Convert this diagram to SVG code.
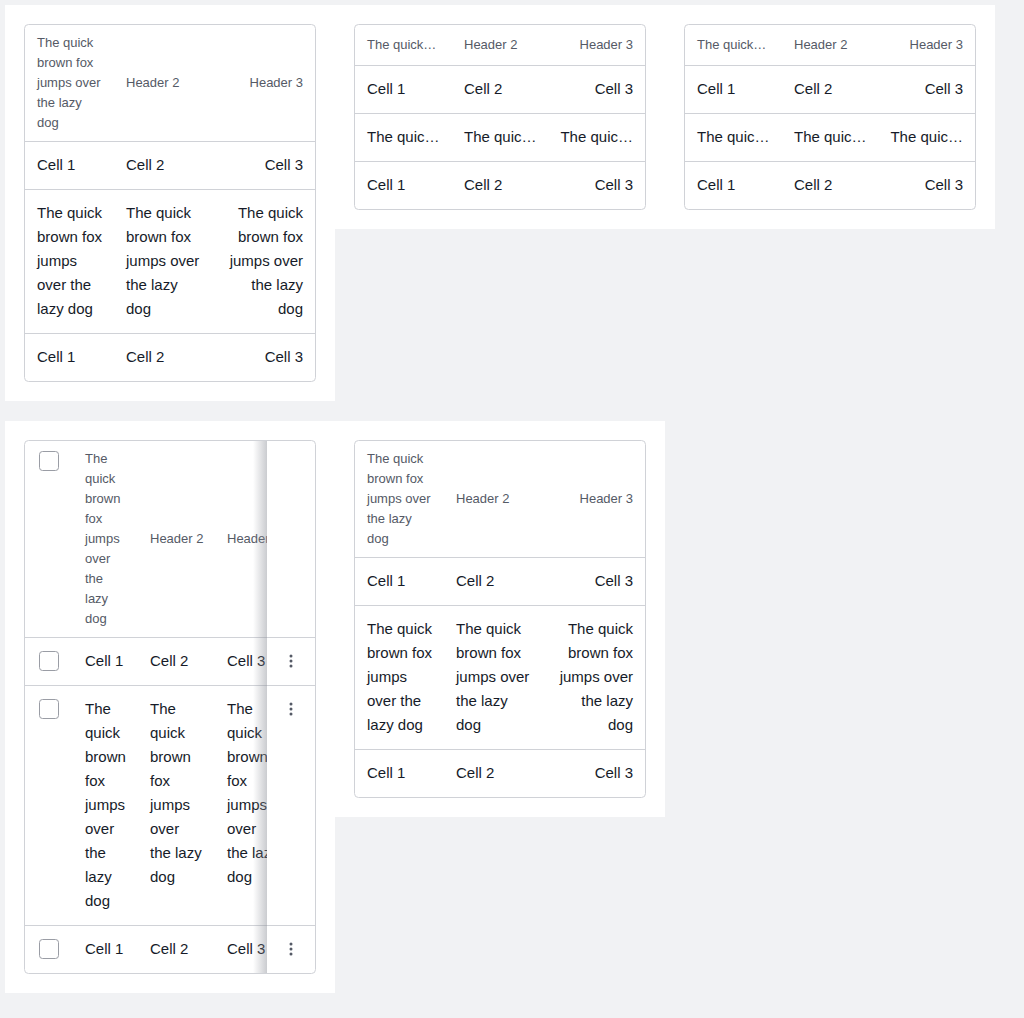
<svg xmlns="http://www.w3.org/2000/svg" width="1024" height="1018" viewBox="0 0 1024 1018">
<defs>
<style>
.bg{fill:#f1f2f4}
.panel{fill:#ffffff}
.tbl{fill:#ffffff;stroke:#d0d2d7;stroke-width:1}
.sep{stroke:#d0d2d7;stroke-width:1}
.h{font-family:"Liberation Sans",Arial,sans-serif;font-size:13px;fill:#555a66}
.c{font-family:"Liberation Sans",Arial,sans-serif;font-size:15px;fill:#161b29}
.r{text-anchor:end}
.cb{fill:#ffffff;stroke:#9a9da5;stroke-width:1}
.dot{fill:#555a66}
</style>
<linearGradient id="shadow" x1="0" y1="0" x2="1" y2="0">
<stop offset="0" stop-color="#8a8d96" stop-opacity="0"/>
<stop offset="1" stop-color="#8a8d96" stop-opacity="0.45"/>
</linearGradient>
<clipPath id="clip4"><rect x="25" y="441" width="242" height="532"/></clipPath>
<g id="kebab"><circle cx="0" cy="-5" r="1.5" class="dot"/><circle cx="0" cy="0" r="1.5" class="dot"/><circle cx="0" cy="5" r="1.5" class="dot"/></g>
</defs>
<rect class="bg" x="0" y="0" width="1024" height="1018"/>
<rect class="panel" x="5" y="5" width="330" height="396"/>
<rect class="panel" x="335" y="5" width="660" height="224"/>
<rect class="panel" x="5" y="421" width="330" height="572"/>
<rect class="panel" x="335" y="421" width="330" height="396"/>

<g id="table1">
<rect class="tbl" x="24.5" y="24.5" width="291" height="357" rx="4"/>
<line class="sep" x1="25" y1="141.5" x2="315" y2="141.5"/>
<line class="sep" x1="25" y1="189.5" x2="315" y2="189.5"/>
<line class="sep" x1="25" y1="333.5" x2="315" y2="333.5"/>
<text class="h" x="37" y="47">The quick</text>
<text class="h" x="37" y="67">brown fox</text>
<text class="h" x="37" y="87">jumps over</text>
<text class="h" x="37" y="107">the lazy</text>
<text class="h" x="37" y="127">dog</text>
<text class="h" x="126" y="87">Header 2</text>
<text class="h r" x="303" y="87">Header 3</text>
<text class="c" x="37" y="170">Cell 1</text>
<text class="c" x="126" y="170">Cell 2</text>
<text class="c r" x="303" y="170">Cell 3</text>
<text class="c" x="37" y="218">The quick</text>
<text class="c" x="37" y="242">brown fox</text>
<text class="c" x="37" y="266">jumps</text>
<text class="c" x="37" y="290">over the</text>
<text class="c" x="37" y="314">lazy dog</text>
<text class="c" x="126" y="218">The quick</text>
<text class="c" x="126" y="242">brown fox</text>
<text class="c" x="126" y="266">jumps over</text>
<text class="c" x="126" y="290">the lazy</text>
<text class="c" x="126" y="314">dog</text>
<text class="c r" x="303" y="218">The quick</text>
<text class="c r" x="303" y="242">brown fox</text>
<text class="c r" x="303" y="266">jumps over</text>
<text class="c r" x="303" y="290">the lazy</text>
<text class="c r" x="303" y="314">dog</text>
<text class="c" x="37" y="362">Cell 1</text>
<text class="c" x="126" y="362">Cell 2</text>
<text class="c r" x="303" y="362">Cell 3</text>
</g>

<g id="table2">
<rect class="tbl" x="354.5" y="24.5" width="291" height="185" rx="4"/>
<line class="sep" x1="355" y1="65.5" x2="645" y2="65.5"/>
<line class="sep" x1="355" y1="113.5" x2="645" y2="113.5"/>
<line class="sep" x1="355" y1="161.5" x2="645" y2="161.5"/>
<text class="h" x="367" y="49">The quick…</text>
<text class="h" x="464" y="49">Header 2</text>
<text class="h r" x="633" y="49">Header 3</text>
<text class="c" x="367" y="94">Cell 1</text>
<text class="c" x="464" y="94">Cell 2</text>
<text class="c r" x="633" y="94">Cell 3</text>
<text class="c" x="367" y="142">The quic…</text>
<text class="c" x="464" y="142">The quic…</text>
<text class="c r" x="633" y="142">The quic…</text>
<text class="c" x="367" y="190">Cell 1</text>
<text class="c" x="464" y="190">Cell 2</text>
<text class="c r" x="633" y="190">Cell 3</text>
</g>

<g id="table3">
<rect class="tbl" x="684.5" y="24.5" width="291" height="185" rx="4"/>
<line class="sep" x1="685" y1="65.5" x2="975" y2="65.5"/>
<line class="sep" x1="685" y1="113.5" x2="975" y2="113.5"/>
<line class="sep" x1="685" y1="161.5" x2="975" y2="161.5"/>
<text class="h" x="697" y="49">The quick…</text>
<text class="h" x="794" y="49">Header 2</text>
<text class="h r" x="963" y="49">Header 3</text>
<text class="c" x="697" y="94">Cell 1</text>
<text class="c" x="794" y="94">Cell 2</text>
<text class="c r" x="963" y="94">Cell 3</text>
<text class="c" x="697" y="142">The quic…</text>
<text class="c" x="794" y="142">The quic…</text>
<text class="c r" x="963" y="142">The quic…</text>
<text class="c" x="697" y="190">Cell 1</text>
<text class="c" x="794" y="190">Cell 2</text>
<text class="c r" x="963" y="190">Cell 3</text>
</g>

<g id="table4">
<rect class="tbl" x="24.5" y="440.5" width="291" height="533" rx="4"/>
<line class="sep" x1="25" y1="637.5" x2="315" y2="637.5"/>
<line class="sep" x1="25" y1="685.5" x2="315" y2="685.5"/>
<line class="sep" x1="25" y1="925.5" x2="315" y2="925.5"/>
<rect class="cb" x="39.5" y="451.5" width="19" height="19" rx="3"/>
<rect class="cb" x="39.5" y="651.5" width="19" height="19" rx="3"/>
<rect class="cb" x="39.5" y="699.5" width="19" height="19" rx="3"/>
<rect class="cb" x="39.5" y="939.5" width="19" height="19" rx="3"/>
<text class="h" x="85" y="463">The</text>
<text class="h" x="85" y="483">quick</text>
<text class="h" x="85" y="503">brown</text>
<text class="h" x="85" y="523">fox</text>
<text class="h" x="85" y="543">jumps</text>
<text class="h" x="85" y="563">over</text>
<text class="h" x="85" y="583">the</text>
<text class="h" x="85" y="603">lazy</text>
<text class="h" x="85" y="623">dog</text>
<text class="h" x="150" y="543">Header 2</text>
<text class="c" x="85" y="666">Cell 1</text>
<text class="c" x="150" y="666">Cell 2</text>
<text class="c" x="85" y="714">The</text>
<text class="c" x="85" y="738">quick</text>
<text class="c" x="85" y="762">brown</text>
<text class="c" x="85" y="786">fox</text>
<text class="c" x="85" y="810">jumps</text>
<text class="c" x="85" y="834">over</text>
<text class="c" x="85" y="858">the</text>
<text class="c" x="85" y="882">lazy</text>
<text class="c" x="85" y="906">dog</text>
<text class="c" x="150" y="714">The</text>
<text class="c" x="150" y="738">quick</text>
<text class="c" x="150" y="762">brown</text>
<text class="c" x="150" y="786">fox</text>
<text class="c" x="150" y="810">jumps</text>
<text class="c" x="150" y="834">over</text>
<text class="c" x="150" y="858">the lazy</text>
<text class="c" x="150" y="882">dog</text>
<text class="c" x="85" y="954">Cell 1</text>
<text class="c" x="150" y="954">Cell 2</text>
<g clip-path="url(#clip4)">
<text class="h" x="227" y="543">Header 3</text>
<text class="c" x="227" y="666">Cell 3</text>
<text class="c" x="227" y="714">The</text>
<text class="c" x="227" y="738">quick</text>
<text class="c" x="227" y="762">brown</text>
<text class="c" x="227" y="786">fox</text>
<text class="c" x="227" y="810">jumps</text>
<text class="c" x="227" y="834">over</text>
<text class="c" x="227" y="858">the lazy</text>
<text class="c" x="227" y="882">dog</text>
<text class="c" x="227" y="954">Cell 3</text>
<rect x="253" y="441" width="14" height="532" fill="url(#shadow)"/>
</g>
<use href="#kebab" x="291" y="661"/>
<use href="#kebab" x="291" y="709"/>
<use href="#kebab" x="291" y="949"/>
</g>

<g id="table5">
<rect class="tbl" x="354.5" y="440.5" width="291" height="357" rx="4"/>
<line class="sep" x1="355" y1="557.5" x2="645" y2="557.5"/>
<line class="sep" x1="355" y1="605.5" x2="645" y2="605.5"/>
<line class="sep" x1="355" y1="749.5" x2="645" y2="749.5"/>
<text class="h" x="367" y="463">The quick</text>
<text class="h" x="367" y="483">brown fox</text>
<text class="h" x="367" y="503">jumps over</text>
<text class="h" x="367" y="523">the lazy</text>
<text class="h" x="367" y="543">dog</text>
<text class="h" x="456" y="503">Header 2</text>
<text class="h r" x="633" y="503">Header 3</text>
<text class="c" x="367" y="586">Cell 1</text>
<text class="c" x="456" y="586">Cell 2</text>
<text class="c r" x="633" y="586">Cell 3</text>
<text class="c" x="367" y="634">The quick</text>
<text class="c" x="367" y="658">brown fox</text>
<text class="c" x="367" y="682">jumps</text>
<text class="c" x="367" y="706">over the</text>
<text class="c" x="367" y="730">lazy dog</text>
<text class="c" x="456" y="634">The quick</text>
<text class="c" x="456" y="658">brown fox</text>
<text class="c" x="456" y="682">jumps over</text>
<text class="c" x="456" y="706">the lazy</text>
<text class="c" x="456" y="730">dog</text>
<text class="c r" x="633" y="634">The quick</text>
<text class="c r" x="633" y="658">brown fox</text>
<text class="c r" x="633" y="682">jumps over</text>
<text class="c r" x="633" y="706">the lazy</text>
<text class="c r" x="633" y="730">dog</text>
<text class="c" x="367" y="778">Cell 1</text>
<text class="c" x="456" y="778">Cell 2</text>
<text class="c r" x="633" y="778">Cell 3</text>
</g>
</svg>
